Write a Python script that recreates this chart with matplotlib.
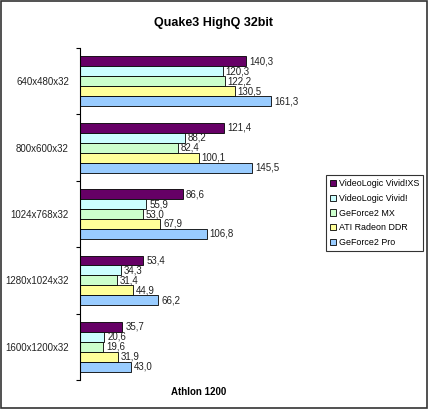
import matplotlib.pyplot as plt
import numpy as np

plt.rcParams["font.family"] = ["Liberation Sans", "DejaVu Sans"]

resolutions = ["640x480x32", "800x600x32", "1024x768x32", "1280x1024x32", "1600x1200x32"]
series_names = ["VideoLogic Vivid!XS", "VideoLogic Vivid!", "GeForce2 MX",
                "ATI Radeon DDR", "GeForce2 Pro"]
vivid_xs = [140.3, 121.4, 86.6, 53.4, 35.7]
vivid = [120.3, 88.2, 55.9, 34.3, 20.6]
gf2_mx = [122.2, 82.4, 53.0, 31.4, 19.6]
radeon = [130.5, 100.1, 67.9, 44.9, 31.9]
gf2_pro = [161.3, 145.5, 106.8, 66.2, 43.0]
colors = ["#660066", "#CCFFFF", "#CCFFCC", "#FFFF99", "#99CCFF"]

all_series = [vivid_xs, vivid, gf2_mx, radeon, gf2_pro]

fig = plt.figure(figsize=(4.28, 4.09), dpi=100)
ax = fig.add_axes([80 / 428, 29 / 409, 237 / 428, 332 / 409])

n = len(resolutions)
bar_h = 0.15
y = np.arange(n)
for i, (vals, name, c) in enumerate(zip(all_series, series_names, colors)):
    pos = y - 0.375 + bar_h * (i + 0.5)
    bars = ax.barh(pos, vals, height=bar_h, color=c, edgecolor="black",
                   linewidth=0.6, label=name)
    for b, v in zip(bars, vals):
        ax.text(b.get_width() + 2.5, b.get_y() + b.get_height() / 2,
                f"{v:.1f}".replace(".", ","), va="center", ha="left",
                fontsize=7, color="#222222")

ax.set_ylim(n - 0.5, -0.5)
ax.set_xlim(0, 200)
ax.set_yticks(y, resolutions, fontsize=7, color="#222222")
ax.set_yticks(np.arange(n + 1) - 0.5, minor=True)
ax.tick_params(axis="y", which="major", length=0, pad=8)
ax.tick_params(axis="y", which="minor", length=3, width=0.8)
ax.set_xticks([])
for s in ["top", "right", "bottom"]:
    ax.spines[s].set_visible(False)
ax.spines["left"].set_linewidth(0.8)

ax.set_xlabel("Athlon 1200", fontsize=7, fontweight="bold", labelpad=5)
fig.text(0.5, 1 - 23 / 409, "Quake3 HighQ 32bit", ha="center", va="center",
         fontsize=9, fontweight="bold")

leg = fig.legend(loc="upper left", bbox_to_anchor=(326 / 428, 1 - 175 / 409),
                 fontsize=6.4, frameon=True, fancybox=False, handlelength=0.7,
                 handleheight=0.7, handletextpad=0.3, labelspacing=0.65,
                 borderpad=0.45, borderaxespad=0)
leg.get_frame().set_edgecolor("black")
leg.get_frame().set_linewidth(0.8)

fig.patches.append(plt.Rectangle((0.002, 0.002), 0.996, 0.996, transform=fig.transFigure,
                                 fill=False, edgecolor="#333333", linewidth=1.2))

fig.savefig("out.png", dpi=100)
